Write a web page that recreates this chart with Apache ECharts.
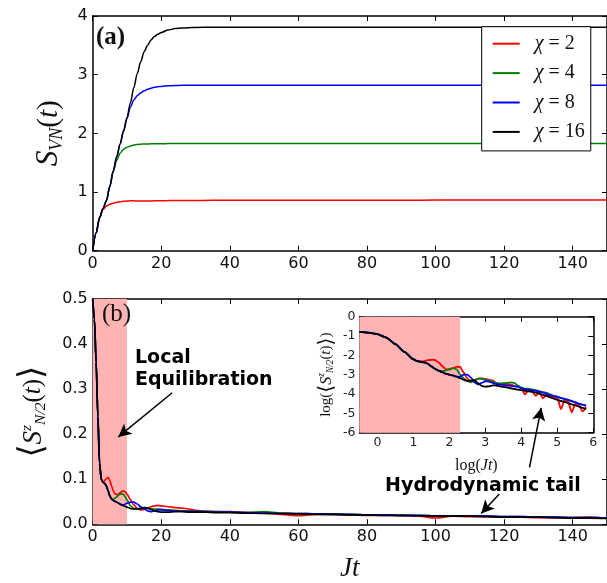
<!DOCTYPE html>
<html><head><meta charset="utf-8">
<script src="https://cdn.jsdelivr.net/npm/echarts@6/dist/echarts.min.js"></script>
<style>html,body{margin:0;padding:0;background:#fff}#c{width:607px;height:583px}</style>
</head><body><div id="c"></div>
<script>
// ---------- data ----------
const NAMES = ['χ=2', 'χ=4', 'χ=8', 'χ=16'];
const CHI = ['2', '4', '8', '16'];

// panel (a): S_VN(t)
const T_A = [0,1,2,3,4,5,6,7,8,9,10,11,12,13,14,15,16,17,18,19,20,22,24,26,28,30,35,40,50,60,70,80,90,100,110,120,130,140,150];
const SA_CHI2  = [0,0.3,0.56,0.7,0.76,0.79,0.81,0.825,0.835,0.842,0.847,0.85,0.85,0.848,0.846,0.845,0.846,0.848,0.85,0.851,0.852,0.854,0.855,0.856,0.857,0.857,0.858,0.858,0.859,0.86,0.86,0.861,0.861,0.862,0.862,0.862,0.862,0.862,0.862];
const SA_CHI4  = [0,0.3,0.56,0.72,0.85,1.1,1.36,1.54,1.66,1.73,1.765,1.785,1.8,1.81,1.815,1.818,1.82,1.821,1.822,1.823,1.824,1.825,1.825,1.826,1.826,1.826,1.826,1.826,1.826,1.826,1.826,1.826,1.826,1.826,1.826,1.826,1.826,1.826,1.826];
const SA_CHI8  = [0,0.3,0.56,0.72,0.85,1.1,1.36,1.6,1.82,2.04,2.25,2.45,2.57,2.64,2.69,2.725,2.75,2.77,2.785,2.795,2.8,2.81,2.815,2.82,2.82,2.82,2.82,2.82,2.82,2.82,2.82,2.82,2.82,2.82,2.82,2.82,2.82,2.82,2.82];
const SA_CHI16 = [0,0.3,0.56,0.72,0.85,1.1,1.36,1.6,1.82,2.04,2.27,2.52,2.78,3.02,3.22,3.39,3.5,3.59,3.65,3.69,3.72,3.76,3.785,3.795,3.8,3.805,3.81,3.81,3.81,3.81,3.81,3.81,3.81,3.81,3.81,3.81,3.81,3.81,3.81];

// panel (b): <S^z_{N/2}(t)>
const T_B = [0,0.5,1,1.5,2,2.5,3,3.5,4,4.5,5,5.5,6,6.5,7,7.5,8,8.5,9,9.5,10,11,12,13,14,15,16,17,18,19,20,22,24,26,28,30,33,36,40,45,50,55,60,65,70,75,80,85,90,95,100,105,110,115,120,125,130,135,140,145,150];
const SB_CHI2  = [0.5,0.455,0.36,0.24,0.135,0.1,0.094,0.097,0.102,0.104,0.097,0.085,0.074,0.068,0.066,0.067,0.07,0.073,0.074,0.072,0.067,0.055,0.043,0.035,0.032,0.033,0.036,0.039,0.041,0.042,0.041,0.039,0.037,0.036,0.034,0.031,0.029,0.028,0.028,0.026,0.025,0.022,0.019,0.022,0.022,0.021,0.02,0.02,0.019,0.018,0.014,0.018,0.017,0.017,0.016,0.016,0.015,0.014,0.015,0.016,0.013];
const SB_CHI4  = [0.5,0.455,0.36,0.24,0.135,0.1,0.093,0.091,0.085,0.074,0.063,0.056,0.056,0.058,0.061,0.064,0.067,0.068,0.066,0.061,0.054,0.041,0.035,0.034,0.036,0.037,0.036,0.034,0.034,0.034,0.033,0.032,0.031,0.03,0.03,0.029,0.028,0.028,0.027,0.026,0.028,0.025,0.024,0.023,0.023,0.022,0.021,0.021,0.02,0.02,0.019,0.019,0.019,0.018,0.017,0.017,0.016,0.016,0.015,0.015,0.014];
const SB_CHI8  = [0.5,0.455,0.36,0.24,0.135,0.1,0.093,0.091,0.085,0.074,0.063,0.056,0.053,0.051,0.049,0.047,0.045,0.043,0.043,0.045,0.047,0.049,0.049,0.045,0.039,0.034,0.03,0.028,0.03,0.032,0.032,0.031,0.03,0.029,0.029,0.028,0.028,0.027,0.027,0.026,0.025,0.024,0.024,0.023,0.022,0.022,0.021,0.021,0.02,0.02,0.019,0.019,0.018,0.018,0.017,0.017,0.016,0.016,0.015,0.015,0.014];
const SB_CHI16 = [0.5,0.455,0.36,0.24,0.135,0.1,0.093,0.091,0.085,0.074,0.063,0.056,0.053,0.051,0.049,0.047,0.045,0.043,0.041,0.04,0.038,0.035,0.034,0.034,0.035,0.037,0.036,0.033,0.03,0.028,0.027,0.027,0.028,0.028,0.027,0.027,0.027,0.026,0.026,0.025,0.024,0.024,0.023,0.022,0.022,0.021,0.021,0.02,0.02,0.019,0.018,0.018,0.018,0.017,0.016,0.016,0.016,0.015,0.0135,0.0135,0.013];

// inset: log-log
const LOGT = [-0.5,-0.25,0,0.25,0.5,0.75,1.0,1.1,1.2,1.3,1.4,1.5,1.6,1.7,1.8,1.9,2.0,2.1,2.2,2.3,2.4,2.5,2.6,2.7,2.8,2.9,3.0,3.1,3.2,3.3,3.4,3.5,3.6,3.7,3.8,3.9,4.0,4.1,4.2,4.3,4.4,4.5,4.6,4.7,4.8,4.9,5.0,5.1,5.2,5.3,5.4,5.5,5.6,5.7,5.8];
const LOGS_CHI16 = [-0.78,-0.82,-0.9,-1.08,-1.42,-1.82,-2.2,-2.3,-2.33,-2.36,-2.43,-2.57,-2.7,-2.79,-2.87,-2.95,-3.0,-3.04,-3.1,-3.18,-3.26,-3.33,-3.3,-3.28,-3.45,-3.58,-3.62,-3.6,-3.55,-3.56,-3.6,-3.63,-3.66,-3.7,-3.74,-3.77,-3.8,-3.83,-3.86,-3.89,-3.93,-3.98,-4.04,-4.1,-4.17,-4.24,-4.3,-4.36,-4.41,-4.47,-4.53,-4.59,-4.65,-4.72,-4.78];
const LOGS_CHI2  = [-0.78,-0.82,-0.9,-1.08,-1.42,-1.82,-2.2,-2.3,-2.33,-2.3,-2.25,-2.23,-2.24,-2.36,-2.55,-2.72,-2.74,-2.66,-2.6,-2.6,-2.9,-3.2,-3.36,-3.3,-3.2,-3.19,-3.22,-3.26,-3.3,-3.42,-3.52,-3.5,-3.48,-3.5,-3.58,-3.62,-3.7,-4.02,-3.8,-3.84,-4.1,-3.92,-4.22,-4.02,-4.1,-4.16,-4.2,-4.78,-4.32,-4.4,-4.95,-4.5,-4.56,-4.9,-4.68];
const LOGS_CHI4  = [-0.78,-0.82,-0.9,-1.08,-1.42,-1.82,-2.2,-2.3,-2.33,-2.36,-2.43,-2.57,-2.7,-2.79,-2.82,-2.78,-2.7,-2.66,-2.72,-2.98,-3.2,-3.33,-3.39,-3.28,-3.2,-3.22,-3.26,-3.3,-3.36,-3.42,-3.45,-3.44,-3.42,-3.4,-3.42,-3.55,-3.66,-3.72,-3.72,-3.76,-3.8,-3.85,-3.9,-3.94,-4.02,-4.08,-4.14,-4.2,-4.26,-4.3,-4.38,-4.42,-4.5,-4.56,-4.62];
const LOGS_CHI8  = [-0.78,-0.82,-0.9,-1.08,-1.42,-1.82,-2.2,-2.3,-2.33,-2.36,-2.43,-2.57,-2.7,-2.79,-2.87,-2.95,-3.0,-3.04,-3.1,-3.1,-3.0,-3.0,-3.15,-3.4,-3.5,-3.42,-3.34,-3.36,-3.42,-3.48,-3.5,-3.53,-3.56,-3.58,-3.6,-3.62,-3.7,-3.75,-3.78,-3.8,-3.84,-3.88,-3.93,-3.98,-4.05,-4.1,-4.15,-4.2,-4.25,-4.3,-4.36,-4.42,-4.5,-4.55,-4.6];

// axis ticks and shaded windows
const XTICKS_MAIN = [0,20,40,60,80,100,120,140];
const XTICKS_INSET = [0,1,2,3,4,5,6];
const SHADE_MAIN = [0, 10];
const SHADE_INSET = [-0.5, 2.3];
// annotation arrows (data coordinates of panel b): [from, to]
const ARROWS_B = [
  [[23.2, 0.292], [7.46, 0.194]],
  [[118.6, 0.067], [113.3, 0.0242]],
  [[127.4, 0.1264], [130.8, 0.2585]]
];

// ---------- styling ----------
const COLORS = ['#ff0000', '#008000', '#0000ff', '#000000'];
const SERIF = 'Liberation Serif';
const SANS = 'DejaVu Sans';
const AXLINE = { show: true, onZero: false, lineStyle: { color: '#000', width: 1.5 } };
function tick(custom) {
  const t = { show: true, inside: true, length: 5, lineStyle: { color: '#000', width: 1 } };
  if (custom) t.customValues = custom;
  return t;
}
function lbl(size, extra) {
  return Object.assign({ fontFamily: SANS, fontSize: size, color: '#111', margin: 5 }, extra || {});
}
const mathRich = (base) => ({
  s: { fontFamily: SERIF, fontStyle: 'italic', fontSize: base * 1.08, lineHeight: base * 1.2, color: '#111' },
  t: { fontFamily: SERIF, fontStyle: 'italic', fontSize: base, lineHeight: base * 1.2, color: '#111' },
  p: { fontFamily: SERIF, fontSize: base, lineHeight: base * 1.2, color: '#111' },
  l: { fontFamily: SERIF, fontSize: base, lineHeight: base * 1.2, color: '#111' },
  sub: { fontFamily: SERIF, fontStyle: 'italic', fontSize: base * 0.62, lineHeight: base * 0.62, verticalAlign: 'bottom', color: '#111' },
  sup: { fontFamily: SERIF, fontStyle: 'italic', fontSize: base * 0.62, lineHeight: base * 0.62, verticalAlign: 'top', color: '#111' },
  b: { fontFamily: 'DejaVu Serif', fontSize: base * 1.35, lineHeight: base * 1.2, color: '#111' }
});

function xAx(grid, min, max, opts) {
  return Object.assign({
    type: 'value', gridIndex: grid, min: min, max: max,
    axisLine: AXLINE, splitLine: { show: false }
  }, opts);
}
const yAx = xAx;

const xAxis = [
  xAx(0, 0, 150, { position: 'bottom', axisTick: tick(XTICKS_MAIN), axisLabel: lbl(16, { customValues: XTICKS_MAIN }) }),
  xAx(0, 0, 150, { position: 'top', axisTick: tick(XTICKS_MAIN), axisLabel: { show: false } }),
  xAx(1, 0, 150, {
    position: 'bottom', axisTick: tick(XTICKS_MAIN), axisLabel: lbl(16, { customValues: XTICKS_MAIN }),
    name: '{t|Jt}', nameLocation: 'middle', nameGap: 28, nameTextStyle: { rich: mathRich(27) }
  }),
  xAx(1, 0, 150, { position: 'top', axisTick: tick(XTICKS_MAIN), axisLabel: { show: false } }),
  xAx(2, -0.5, 6, {
    position: 'bottom', axisTick: tick(XTICKS_INSET), axisLabel: lbl(12.5, { customValues: XTICKS_INSET, margin: 4, color: '#222' }),
    name: '{l|log}{p|(}{t|Jt}{p|)}', nameLocation: 'middle', nameGap: 23, nameTextStyle: { rich: mathRich(16) }
  }),
  xAx(2, -0.5, 6, { position: 'top', axisTick: tick(XTICKS_INSET), axisLabel: { show: false } })
];
const yAxis = [
  yAx(0, 0, 4, {
    position: 'left', interval: 1, axisTick: tick(), axisLabel: lbl(16),
    name: '{s|S}{sub|VN}{p|(}{t|t}{p|)}', nameLocation: 'middle', nameGap: 26, nameRotate: 90,
    nameTextStyle: { rich: mathRich(29) }
  }),
  yAx(0, 0, 4, { position: 'right', interval: 1, axisTick: tick(), axisLabel: { show: false } }),
  yAx(1, 0, 0.5, {
    position: 'left', interval: 0.1, axisTick: tick(), axisLabel: lbl(16, { formatter: v => v.toFixed(1) }),
    name: '{b|⟨}{s|S}{sup|z}{sub|N/2}{p|(}{t|t}{p|)}{b|⟩}', nameLocation: 'middle', nameGap: 44, nameRotate: 90,
    nameTextStyle: { rich: mathRich(25) }
  }),
  yAx(1, 0, 0.5, { position: 'right', interval: 0.1, axisTick: tick(), axisLabel: { show: false } }),
  yAx(2, -6, 0, {
    position: 'left', interval: 1, axisTick: tick(), axisLabel: lbl(12.5, { margin: 4, color: '#222' }),
    name: '{l|log}{p|(}{b|⟨}{s|S}{sup|z}{sub|N/2}{p|(}{t|t}{p|)}{b|⟩}{p|)}', nameLocation: 'middle', nameGap: 24, nameRotate: 90,
    nameTextStyle: { rich: mathRich(15) }
  }),
  yAx(2, -6, 0, { position: 'right', interval: 1, axisTick: tick(), axisLabel: { show: false } })
];

function line(name, color, xs, ys, xi, yi, smooth, w) {
  return {
    type: 'line', name: name, xAxisIndex: xi, yAxisIndex: yi,
    data: xs.map((x, i) => [x, ys[i]]),
    symbol: 'none', showSymbol: false, smooth: smooth, smoothMonotone: 'x',
    lineStyle: { color: color, width: w }, itemStyle: { color: color },
    animation: false, silent: true
  };
}
const SA = [SA_CHI2, SA_CHI4, SA_CHI8, SA_CHI16];
const SB = [SB_CHI2, SB_CHI4, SB_CHI8, SB_CHI16];
const LS = [LOGS_CHI2, LOGS_CHI4, LOGS_CHI8, LOGS_CHI16];
const series = [];
for (let k = 0; k < 4; k++) series.push(line(NAMES[k], COLORS[k], T_A, SA[k], 0, 0, 0.3, 1.5));
for (let k = 0; k < 4; k++) series.push(line(NAMES[k], COLORS[k], T_B, SB[k], 2, 2, 0.3, 1.7));
for (let k = 0; k < 4; k++) series.push(line(NAMES[k], COLORS[k], LOGT, LS[k], 4, 4, 0.2, 1.8));

const SHADE_COLOR = '#ffb3b3';
series[4].markArea = { silent: true, itemStyle: { color: SHADE_COLOR, borderWidth: 0 }, data: [[{ xAxis: SHADE_MAIN[0] }, { xAxis: SHADE_MAIN[1] }]] };
series[8].markArea = { silent: true, itemStyle: { color: SHADE_COLOR, borderWidth: 0 }, data: [[{ xAxis: SHADE_INSET[0] }, { xAxis: SHADE_INSET[1] }]] };
series[7].markLine = {
  silent: true, animation: false, symbol: ['none', 'arrow'], symbolSize: [10, 13],
  label: { show: false }, lineStyle: { color: '#000', width: 1.5, type: 'solid' },
  data: ARROWS_B.map(a => [{ coord: a[0] }, { coord: a[1] }])
};

const option = {
  animation: false,
  backgroundColor: '#fff',
  grid: [
    { left: 92.7, top: 16, width: 515.2, height: 234.7 },
    { left: 92.7, top: 299, width: 515.2, height: 233.3 },
    { left: 359.4, top: 316.7, width: 233.9, height: 116 }
  ],
  xAxis: xAxis, yAxis: yAxis, series: series,
  legend: {
    data: NAMES, orient: 'vertical', left: 481.7, top: 26.7,
    padding: [7, 6, 9, 11], icon: 'rect', itemWidth: 27, itemHeight: 2, itemGap: 9.4,
    borderColor: '#000', borderWidth: 1, borderRadius: 0, backgroundColor: '#fff',
    selectedMode: false,
    formatter: n => '{i|\u2002χ}{r| = ' + CHI[NAMES.indexOf(n)] + '}',
    textStyle: {
      rich: {
        i: { fontFamily: SERIF, fontStyle: 'italic', fontSize: 20, lineHeight: 20, color: '#111' },
        r: { fontFamily: SERIF, fontSize: 20, lineHeight: 20, color: '#111' }
      }
    }
  },
  graphic: [
    { type: 'text', z: 100, x: 96, y: 25, style: { text: '(a)', fontFamily: SERIF, fontWeight: 'bold', fontSize: 25, fill: '#111', verticalAlign: 'top' } },
    { type: 'text', z: 100, x: 102, y: 302, style: { text: '(b)', fontFamily: SERIF, fontSize: 25, fill: '#111', verticalAlign: 'top' } },
    { type: 'text', z: 100, x: 135, y: 347, style: { text: 'Local\nEquilibration', fontFamily: SANS, fontWeight: 'bold', fontSize: 19, lineHeight: 22, fill: '#000', verticalAlign: 'top' } },
    { type: 'text', z: 100, x: 483, y: 477, style: { text: 'Hydrodynamic tail', fontFamily: SANS, fontWeight: 'bold', fontSize: 19, fill: '#000', align: 'center', verticalAlign: 'top' } }
  ]
};
const chart = echarts.init(document.getElementById('c'));
chart.setOption(option);
</script></body></html>
